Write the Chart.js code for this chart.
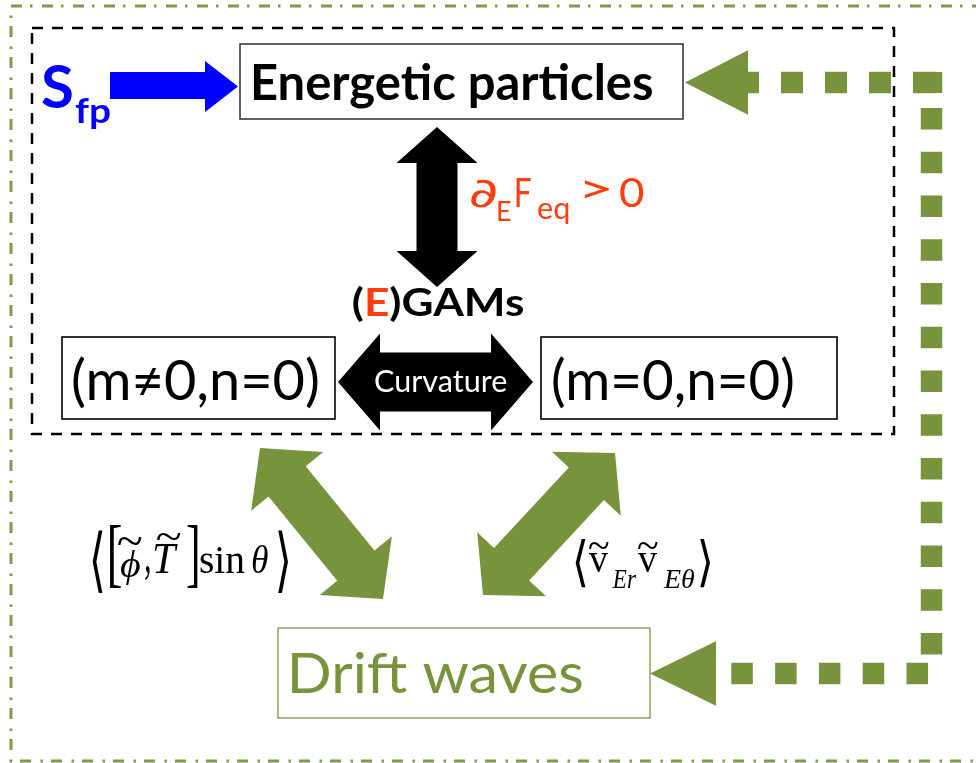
<!DOCTYPE html>
<html><head><meta charset="utf-8">
<script src="https://cdn.jsdelivr.net/npm/chart.js@4/dist/chart.umd.min.js"></script>
<style>html,body{margin:0;padding:0;background:#fff;overflow:hidden}#wrap{width:976px;height:763px;position:relative}</style>
</head><body><div id="wrap"><canvas id="c"></canvas></div>
<script>
// ---- diagram content (text values) ----
const nodeNames   = ["Energetic particles", "(m≠0,n=0)", "(m=0,n=0)", "Drift waves"];
const sourceTerm  = ["S", "fp"];
const driveTerm   = ["∂", "E", "F", "eq", ">", "0"];
const modeTitle   = ["(", "E", ")GAMs"];
const couplingName = ["Curvature"];
const leftFlux    = ["⟨", "[", "ϕ", ",", "T", "]", "sin", "θ", "⟩", "~"];
const rightFlux   = ["⟨", "v", "Er", "v", "Eθ", "⟩", "~"];
const links = [
  ["S", "Energetic particles"],
  ["Energetic particles", "(E)GAMs"],
  ["(m≠0,n=0)", "(m=0,n=0)"],
  ["(m≠0,n=0)", "Drift waves"],
  ["(m=0,n=0)", "Drift waves"],
  ["Drift waves", "Energetic particles"]
];

// ---- layout (diagram coordinates, mapped through the chart scales) ----
const OLIVE = "#77933C", RED = "#FF3C0A", BLUE = "#0000FF";
const layout = {
  outer: [11, 6, 992, 761],
  inner: [32, 28, 894, 434],
  boxes: [[240, 44, 683, 119], [62, 337, 335, 419], [541, 337, 837, 419], [278, 628, 650, 718]],
  boxColors: ["#3a3a3a", "#000", "#000", "#93a866"],
  blueArrow: [[110,72],[205,72],[205,61],[238,86.5],[205,112],[205,99],[110,99]],
  vArrow: [[437,127],[437,287], 20.5, 40.5, 36],
  hArrow: [[338,382],[533,382], 29.5, 48.5, 42],
  gArrowL: [[260,448],[383,599], 24, 46.5, 43],
  gArrowR: [[615,453],[483,595], 24, 47, 42],
  feedback: { topTip:[685,82.5], topBack:748, botTip:[650,673.5], botBack:716, half:32.3,
              col:931.5, topY:82.5, botY:673.5, lw:21.5 }
};

const diagram = {
  id: 'diagram',
  afterDraw(chart) {
    const ctx = chart.ctx, xs = chart.scales.x, ys = chart.scales.y;
    const X = v => xs.getPixelForValue(v), Y = v => ys.getPixelForValue(v);
    const k = X(1) - X(0);
    const P = p => [X(p[0]), Y(p[1])];

    function rectStroke(b, color, lw, dash) {
      ctx.save(); ctx.strokeStyle = color; ctx.lineWidth = lw * k; ctx.setLineDash(dash || []);
      ctx.strokeRect(X(b[0]), Y(b[1]), X(b[2]) - X(b[0]), Y(b[3]) - Y(b[1]));
      ctx.restore();
    }
    function poly(pts, color) {
      ctx.save(); ctx.fillStyle = color; ctx.beginPath();
      pts.forEach((p, i) => { const q = P(p); i ? ctx.lineTo(q[0], q[1]) : ctx.moveTo(q[0], q[1]); });
      ctx.closePath(); ctx.fill(); ctx.restore();
    }
    function dblArrow(spec, color) {
      const [a, b, w, h, L] = spec;
      const dx = b[0]-a[0], dy = b[1]-a[1], len = Math.hypot(dx, dy);
      const u = [dx/len, dy/len], n = [-u[1], u[0]];
      const pt = (base, al, pe) => [base[0] + u[0]*al + n[0]*pe, base[1] + u[1]*al + n[1]*pe];
      poly([a, pt(a,L,h), pt(a,L,w), pt(b,-L,w), pt(b,-L,h), b, pt(b,-L,-h), pt(b,-L,-w), pt(a,L,-w), pt(a,L,-h)], color);
    }
    function dotted(p0, p1, dash, lw, color) {
      ctx.save(); ctx.strokeStyle = color; ctx.lineWidth = lw * k; ctx.lineCap = 'butt';
      ctx.setLineDash(dash.map(d => d * k));
      const a = P(p0), b = P(p1);
      ctx.beginPath(); ctx.moveTo(a[0], a[1]); ctx.lineTo(b[0], b[1]); ctx.stroke(); ctx.restore();
    }
    function textFit(str, x, base, width, size, weight, family, color) {
      ctx.save();
      ctx.font = `${weight} ${size*k}px ${family}`;
      ctx.textAlign = 'left'; ctx.textBaseline = 'alphabetic'; ctx.fillStyle = color;
      const m = ctx.measureText(str);
      const ink = m.actualBoundingBoxLeft + m.actualBoundingBoxRight;
      const s = width ? (width * k) / ink : 1;
      ctx.translate(X(x), Y(base)); ctx.scale(s, 1);
      ctx.fillText(str, m.actualBoundingBoxLeft, 0);
      ctx.restore();
    }
    function runFit(segs, x, base, width, size, weight, family) {
      ctx.save();
      ctx.font = `${weight} ${size*k}px ${family}`;
      ctx.textAlign = 'left'; ctx.textBaseline = 'alphabetic';
      const full = segs.map(s => s[0]).join('');
      const m = ctx.measureText(full);
      const s = (width * k) / (m.actualBoundingBoxLeft + m.actualBoundingBoxRight);
      ctx.translate(X(x), Y(base)); ctx.scale(s, 1);
      let cx = m.actualBoundingBoxLeft;
      segs.forEach(([t, c]) => { ctx.fillStyle = c; ctx.fillText(t, cx, 0); cx += ctx.measureText(t).width; });
      ctx.restore();
    }
    function inkFit(str, font, b, color) {
      ctx.save();
      ctx.font = font; ctx.textAlign = 'left'; ctx.textBaseline = 'alphabetic'; ctx.fillStyle = color;
      const m = ctx.measureText(str);
      const iw = m.actualBoundingBoxLeft + m.actualBoundingBoxRight;
      const ih = m.actualBoundingBoxAscent + m.actualBoundingBoxDescent;
      ctx.translate(X(b[0]), Y(b[1]));
      ctx.scale((X(b[2]) - X(b[0])) / iw, (Y(b[3]) - Y(b[1])) / ih);
      ctx.fillText(str, m.actualBoundingBoxLeft, m.actualBoundingBoxAscent);
      ctx.restore();
    }

    // frames
    rectStroke(layout.outer, "#7F9A48", 3, [11*k, 8*k, 2.5*k, 9.5*k]);
    rectStroke(layout.inner, "#000", 2.5, [11*k, 9*k]);
    layout.boxes.forEach((b, i) => rectStroke(b, layout.boxColors[i], 1.6));

    // arrows
    poly(layout.blueArrow, BLUE);
    dblArrow(layout.vArrow, "#000");
    dblArrow(layout.hArrow, "#000");
    dblArrow(layout.gArrowL, OLIVE);
    dblArrow(layout.gArrowR, OLIVE);

    // feedback dotted path with heads
    const f = layout.feedback;
    poly([f.topTip, [f.topBack, f.topY - f.half], [f.topBack, f.topY + f.half]], OLIVE);
    poly([f.botTip, [f.botBack, f.botY - f.half], [f.botBack, f.botY + f.half]], OLIVE);
    dotted([935, f.topY], [f.topBack, f.topY], [22, 22], f.lw, OLIVE);
    dotted([f.col, 72], [f.col, 93], [21, 0], f.lw, OLIVE);
    dotted([f.col, 108], [f.col, 655], [21.5, 22.25], f.lw, OLIVE);
    dotted([928, f.botY], [f.botBack, f.botY], [21.5, 22.3], f.lw, OLIVE);

    const SANS = "Lato, 'Open Sans', sans-serif";
    const SERIF = "'Liberation Serif', 'DejaVu Serif', serif";

    // node labels
    textFit(nodeNames[0], 253, 100, 399, 49, 'bold', SANS, "#000");
    textFit(nodeNames[1], 73, 400, 245, 56, 'normal', SANS, "#000");
    textFit(nodeNames[2], 553, 400, 240, 56, 'normal', SANS, "#000");
    textFit(nodeNames[3], 292, 693, 290, 57, 'normal', SANS, OLIVE);

    // source term
    textFit(sourceTerm[0], 42, 108, 30, 60, 'bold', SANS, BLUE);
    textFit(sourceTerm[1], 75, 123, 35, 35, 'bold', SANS, BLUE);

    // drive term  ∂_E F_eq > 0
    inkFit(driveTerm[0], `40px 'DejaVu Sans', sans-serif`, [470, 179, 496, 208], RED);
    textFit(driveTerm[1], 498, 221, 13, 27, 'normal', SANS, RED);
    textFit(driveTerm[2], 516, 207, 15, 40, 'normal', SANS, RED);
    textFit(driveTerm[3], 538, 219, 31, 31, 'normal', SANS, RED);
    textFit(driveTerm[4], 584, 203, 25, 40, 'normal', SANS, RED);
    textFit(driveTerm[5], 620, 207, 23, 40, 'normal', SANS, RED);

    // (E)GAMs
    runFit([[modeTitle[0], "#000"], [modeTitle[1], RED], [modeTitle[2], "#000"]], 353, 316, 170, 39, 'bold', SANS);

    // Curvature
    textFit(couplingName[0], 375, 392, 132, 31, 'normal', SANS, "#fff");

    // left flux  <[phi~, T~] sin theta>
    const bigF = `40px ${SERIF}`, itF = `italic 40px ${SERIF}`;
    inkFit(leftFlux[0], `40px 'DejaVu Serif', serif`, [92, 530, 103, 595], "#000");
    inkFit(leftFlux[1], bigF, [109, 523, 121, 587], "#000");
    inkFit(leftFlux[2], itF, [120, 551, 140, 586], "#000");
    inkFit(leftFlux[9], bigF, [118, 537, 142, 545], "#000");
    inkFit(leftFlux[3], bigF, [145, 567, 150, 582], "#000");
    inkFit(leftFlux[4], itF, [154, 544, 178, 573], "#000");
    inkFit(leftFlux[9], bigF, [157, 533, 181, 540], "#000");
    inkFit(leftFlux[5], bigF, [187, 523, 198, 587], "#000");
    textFit(leftFlux[6], 200, 573, 45, 40, 'normal', SERIF, "#000");
    textFit(leftFlux[7], 252, 573, 16, 40, 'italic', SERIF, "#000");
    inkFit(leftFlux[8], `40px 'DejaVu Serif', serif`, [278, 530, 289, 595], "#000");

    // right flux <v~_Er v~_Eθ>
    inkFit(rightFlux[0], `40px 'DejaVu Serif', serif`, [575, 538, 586, 588], "#000");
    inkFit(rightFlux[6], bigF, [589, 542, 609, 549], "#000");
    textFit(rightFlux[1], 589, 572, 19, 40, 'normal', SERIF, "#000");
    textFit(rightFlux[2], 612, 588, 24, 28, 'italic', SERIF, "#000");
    inkFit(rightFlux[6], bigF, [638, 542, 658, 549], "#000");
    textFit(rightFlux[3], 638, 572, 19, 40, 'normal', SERIF, "#000");
    textFit(rightFlux[4], 663, 588, 32, 28, 'italic', SERIF, "#000");
    inkFit(rightFlux[5], `40px 'DejaVu Serif', serif`, [700, 538, 711, 588], "#000");
  }
};

new Chart(document.getElementById('c'), {
  type: 'scatter',
  data: { datasets: [{ data: [], pointRadius: 0 }] },
  options: {
    responsive: true, maintainAspectRatio: false, animation: false,
    layout: { padding: 0 },
    plugins: { legend: { display: false }, tooltip: { enabled: false }, title: { display: false } },
    scales: {
      x: { type: 'linear', min: 0, max: 976, display: false },
      y: { type: 'linear', min: 0, max: 763, reverse: true, display: false }
    }
  },
  plugins: [diagram]
});
</script></body></html>
